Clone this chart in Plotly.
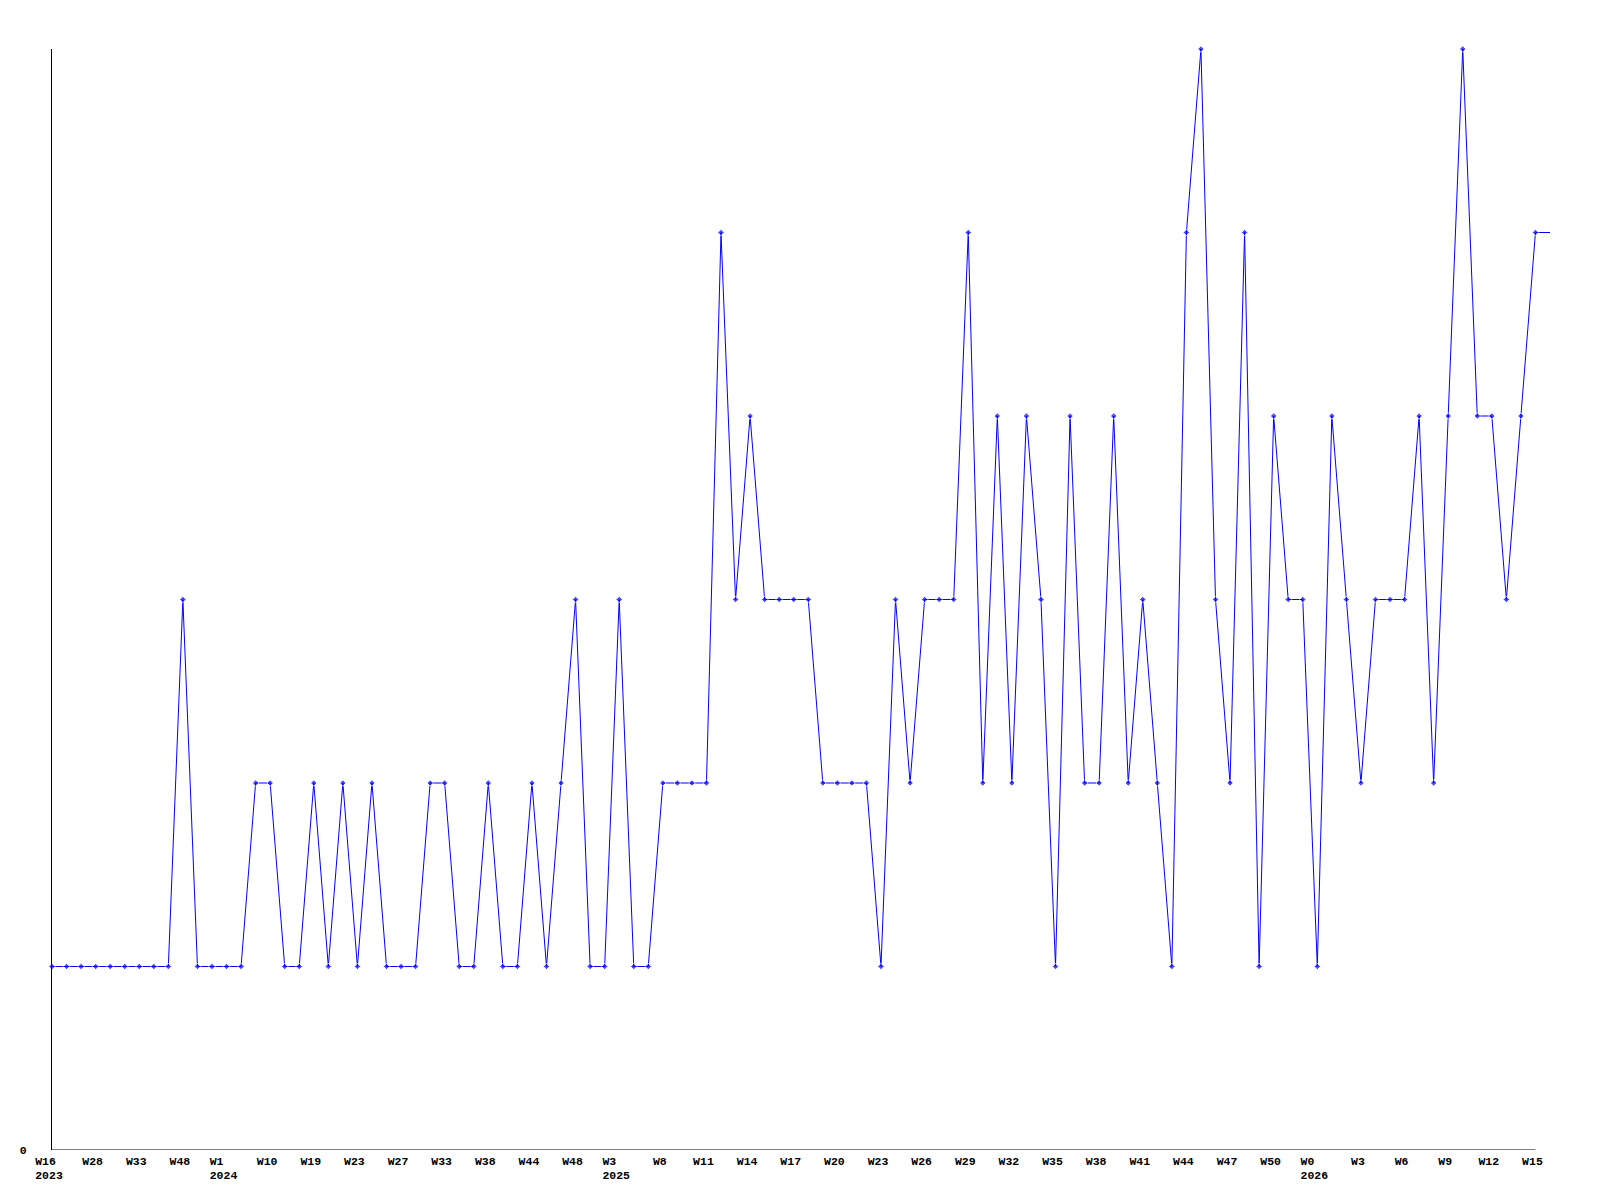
import plotly.graph_objects as go

# Weekly values (one per week, oldest first)
values = [1, 1, 1, 1, 1, 1, 1, 1, 1, 3, 1, 1, 1, 1, 2, 2, 1, 1, 2, 1,
          2, 1, 2, 1, 1, 1, 2, 2, 1, 1, 2, 1, 1, 2, 1, 2, 3, 1, 1, 3,
          1, 1, 2, 2, 2, 2, 5, 3, 4, 3, 3, 3, 3, 2, 2, 2, 2, 1, 3, 2,
          3, 3, 3, 5, 2, 4, 2, 4, 3, 1, 4, 2, 2, 4, 2, 3, 2, 1, 5, 6,
          3, 2, 5, 1, 4, 3, 3, 1, 4, 3, 2, 3, 3, 3, 4, 2, 4, 6, 4, 4,
          3, 4, 5]
# Current (partial) week, drawn as a continuation without a marker
current_value = 5

# Tick labels, one every third week
week_labels = ["W16", "W28", "W33", "W48", "W1", "W10", "W19", "W23", "W27",
               "W33", "W38", "W44", "W48", "W3", "W8", "W11", "W14", "W17",
               "W20", "W23", "W26", "W29", "W32", "W35", "W38", "W41", "W44",
               "W47", "W50", "W0", "W3", "W6", "W9", "W12", "W15"]
year_labels = {0: "2023", 4: "2024", 13: "2025", 29: "2026"}
label_step = 3

NB = "\u00a0"
ticktext = []
for i, w in enumerate(week_labels):
    if i in year_labels:
        yr = year_labels[i]
        n = max(len(w), len(yr))
        ticktext.append(w + NB * (n - len(w)) + "<br>" + yr + NB * (n - len(yr)))
    else:
        ticktext.append(w)
tickvals = [i * label_step for i in range(len(week_labels))]

x = list(range(len(values) + 1))
y = values + [current_value]
sizes = [5] * len(values) + [0]

fig = go.Figure()
fig.add_trace(go.Scatter(
    x=x, y=y, mode="lines+markers",
    line=dict(color="#0000ff", width=1),
    marker=dict(color="#0000ff", size=sizes, symbol="diamond"),
    cliponaxis=False, showlegend=False, hoverinfo="skip",
))

tickfont = dict(family="Liberation Mono", size=11.5, color="black", weight="bold")

fig.update_layout(
    width=1600, height=1200,
    margin=dict(l=42, r=58, t=41, b=58),
    paper_bgcolor="white", plot_bgcolor="white",
    xaxis=dict(range=[0, len(values)], showgrid=False, zeroline=False,
               showline=False, ticks="", tickvals=tickvals, ticktext=ticktext,
               tickfont=tickfont, tickangle=0, ticklabelshift=-3,
               ticklabelstandoff=2),
    yaxis=dict(range=[0, 6], showgrid=False, zeroline=False,
               showline=True, linecolor="black", linewidth=1, ticks="",
               tickvals=[0], ticktext=["0"], tickfont=tickfont,
               ticklabelstandoff=22),
    shapes=[dict(type="line", xref="x", yref="y", x0=0, x1=len(values) - 1,
                 y0=0, y1=0, line=dict(color="black", width=1))],
)

fig.write_html("out.html")
